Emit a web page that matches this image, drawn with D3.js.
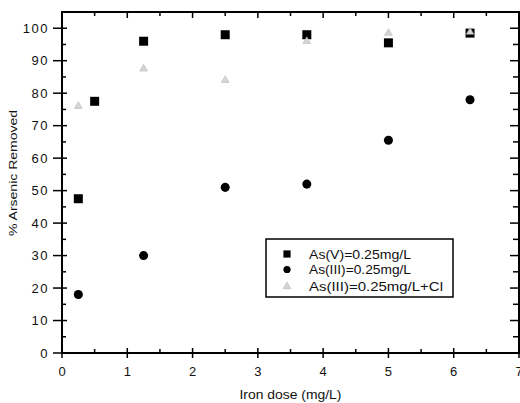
<!DOCTYPE html>
<html>
<head>
<meta charset="utf-8">
<script src="https://cdn.jsdelivr.net/npm/d3@7"></script>
<style>
  body { margin: 0; background: #fff; }
  svg text { font-family: "Liberation Sans", Arial, sans-serif; fill: #111; }
</style>
</head>
<body>
<svg id="chart" width="520" height="403"></svg>
<script>
// data
var doses = [0.25, 0.5, 1.25, 2.5, 3.75, 5, 6.25];
var asV = [47.5, 77.5, 96, 98, 98, 95.5, 98.5];
var doses3 = [0.25, 1.25, 2.5, 3.75, 5, 6.25];
var asIII = [18, 30, 51, 52, 65.5, 78];
var asIIICl = [76, 87.5, 84, 96, 98.5, 98.8];
var xTicks = [0, 1, 2, 3, 4, 5, 6, 7];
var yTicks = [0, 10, 20, 30, 40, 50, 60, 70, 80, 90, 100];
var legendNames = ["As(V)=0.25mg/L", "As(III)=0.25mg/L", "As(III)=0.25mg/L+Cl"];

var margin = {top: 12, right: 1, bottom: 50, left: 62},
    width = 520 - margin.left - margin.right,
    height = 403 - margin.top - margin.bottom;

var svg = d3.select("#chart")
  .append("g")
  .attr("transform", `translate(${margin.left},${margin.top})`);

var x = d3.scaleLinear().domain([0, 7]).range([0, width]);
var y = d3.scaleLinear().domain([0, 105]).range([height, 0]);

// minor ticks
var xMinor = d3.range(0.5, 7, 1);
var yMinor = d3.range(5, 105, 10);

// frame
svg.append("rect")
  .attr("width", width).attr("height", height)
  .attr("fill", "none").attr("stroke", "#000").attr("stroke-width", 2);

// bottom axis
var gx = svg.append("g").attr("transform", `translate(0,${height})`)
  .call(d3.axisBottom(x).tickValues(xTicks).tickFormat(d3.format("d")).tickSize(0).tickPadding(14));
gx.select(".domain").remove();
gx.selectAll("text").attr("font-size", 13).attr("letter-spacing", 1);
svg.selectAll(".xmaj").data(xTicks).join("line")
  .attr("x1", d => x(d)).attr("x2", d => x(d))
  .attr("y1", height - 5).attr("y2", height + 5)
  .attr("stroke", "#000").attr("stroke-width", 1.5);
svg.selectAll(".xmin").data(xMinor).join("line")
  .attr("x1", d => x(d)).attr("x2", d => x(d))
  .attr("y1", height - 4).attr("y2", height)
  .attr("stroke", "#000").attr("stroke-width", 1.5);
// top ticks
svg.selectAll(".xtop").data(xTicks.concat(xMinor)).join("line")
  .attr("x1", d => x(d)).attr("x2", d => x(d))
  .attr("y1", 0).attr("y2", d => xTicks.includes(d) ? 6 : 4)
  .attr("stroke", "#000").attr("stroke-width", 1.5);

// left axis
var gy = svg.append("g")
  .call(d3.axisLeft(y).tickValues(yTicks).tickSize(0).tickPadding(13));
gy.select(".domain").remove();
gy.selectAll("text").attr("font-size", 13).attr("letter-spacing", 1.5);
svg.selectAll(".ymaj").data(yTicks).join("line")
  .attr("x1", -9).attr("x2", 5)
  .attr("y1", d => y(d)).attr("y2", d => y(d))
  .attr("stroke", "#000").attr("stroke-width", 1.5);
svg.selectAll(".ymin").data(yMinor).join("line")
  .attr("x1", 0).attr("x2", 4)
  .attr("y1", d => y(d)).attr("y2", d => y(d))
  .attr("stroke", "#000").attr("stroke-width", 1.5);
// right ticks
svg.selectAll(".yright").data(yTicks.concat(yMinor)).join("line")
  .attr("x1", d => width - (yTicks.includes(d) ? 9 : 6)).attr("x2", width)
  .attr("y1", d => y(d)).attr("y2", d => y(d))
  .attr("stroke", "#000").attr("stroke-width", 1.5);

// axis titles
svg.append("text")
  .attr("x", width / 2).attr("y", height + 46)
  .attr("text-anchor", "middle").attr("font-size", 12.5)
  .attr("textLength", 102).attr("lengthAdjust", "spacingAndGlyphs")
  .text("Iron dose (mg/L)");
svg.append("text")
  .attr("transform", `translate(${-45},${161}) rotate(-90)`)
  .attr("text-anchor", "middle").attr("font-size", 11)
  .attr("textLength", 126).attr("lengthAdjust", "spacingAndGlyphs")
  .text("% Arsenic Removed");

// markers
var sq = d3.symbol().type(d3.symbolSquare).size(81);
var ci = d3.symbol().type(d3.symbolCircle).size(64);
var tr = d3.symbol().type(d3.symbolTriangle).size(26);

svg.selectAll(".pV").data(doses.map((d, i) => [d, asV[i]])).join("path")
  .attr("d", sq).attr("transform", d => `translate(${x(d[0])},${y(d[1])})`)
  .attr("fill", "#000");
svg.selectAll(".pIII").data(doses3.map((d, i) => [d, asIII[i]])).join("path")
  .attr("d", ci).attr("transform", d => `translate(${x(d[0])},${y(d[1])})`)
  .attr("fill", "#000");
svg.selectAll(".pCl").data(doses3.map((d, i) => [d, asIIICl[i]])).join("path")
  .attr("d", tr).attr("transform", d => `translate(${x(d[0])},${y(d[1])})`)
  .attr("fill", "#d6d6d6").attr("stroke", "#aaa").attr("stroke-width", 0.5);

// legend
var leg = svg.append("g").attr("transform", `translate(${204},${227})`);
leg.append("rect").attr("width", 187).attr("height", 58)
  .attr("fill", "#fff").attr("stroke", "#000").attr("stroke-width", 1.5);
var syms = [sq, ci, tr];
var fills = ["#000", "#000", "#d6d6d6"];
var rowY = [19.5, 35, 52];
var textLen = [102, 102, 134];
legendNames.forEach(function (name, i) {
  leg.append("path").attr("d", syms[i])
    .attr("transform", `translate(21,${rowY[i] - 4.5}) scale(${i == 2 ? 1 : 0.8})`)
    .attr("fill", fills[i]).attr("stroke", i == 2 ? "#aaa" : "none").attr("stroke-width", 0.5);
  leg.append("text").attr("x", 43).attr("y", rowY[i])
    .attr("font-size", 13)
    .attr("textLength", textLen[i]).attr("lengthAdjust", "spacingAndGlyphs")
    .text(name);
});
</script>
</body>
</html>
